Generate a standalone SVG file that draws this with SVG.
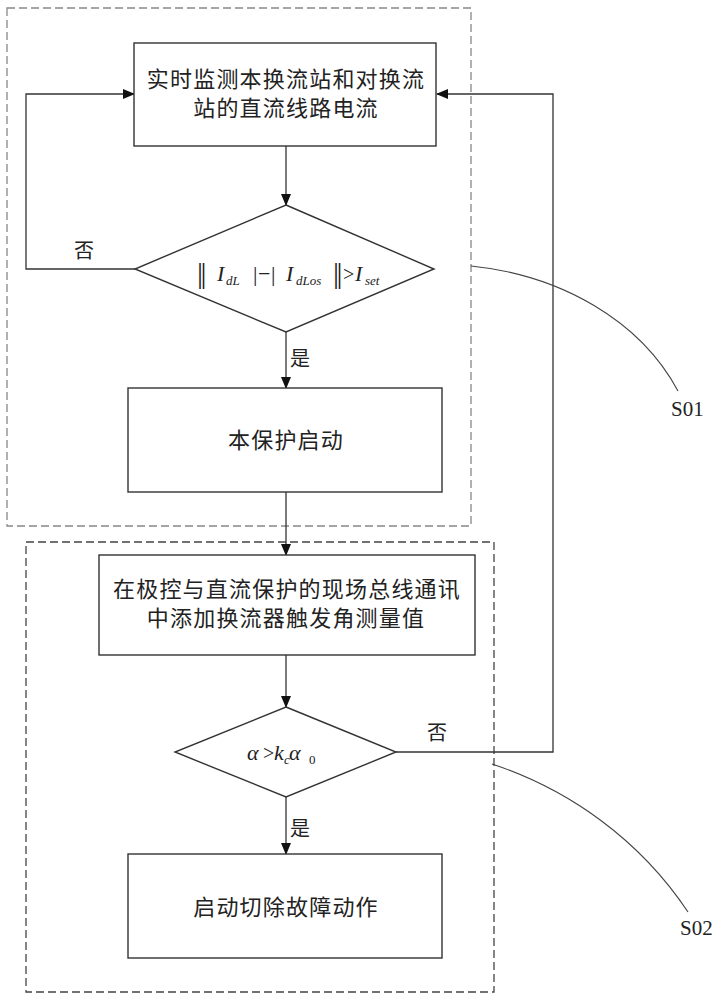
<svg xmlns="http://www.w3.org/2000/svg" width="726" height="1000" viewBox="0 0 726 1000">
<style>
.box{fill:#fff;stroke:#333;stroke-width:1.4}
.dash1{fill:none;stroke:#888;stroke-width:1.3;stroke-dasharray:8 4}
.dash2{fill:none;stroke:#444;stroke-width:1.3;stroke-dasharray:8 4}
.line{fill:none;stroke:#333;stroke-width:1.3}
.lead{fill:none;stroke:#444;stroke-width:1.1}
.cn{font-family:"Noto Sans CJK SC","Noto Sans CJK JP",sans-serif;font-size:22px;letter-spacing:1.2px;fill:#222;text-anchor:middle}
.lbl{font-family:"Noto Sans CJK SC",sans-serif;font-size:20px;fill:#222;text-anchor:middle}
.m{font-family:"Liberation Serif","DejaVu Serif",serif;fill:#222}
.it{font-style:italic}
.bar{font-size:30px;letter-spacing:-2.5px}
.s{font-family:"Liberation Serif",serif;font-size:21px;fill:#222}
</style>
<defs>
<marker id="arr" markerWidth="12" markerHeight="10" refX="11" refY="5" orient="auto" markerUnits="userSpaceOnUse">
<path d="M0,0 L12,5 L0,10 Z" fill="#111"/>
</marker>
</defs>

<g id="region-S01"><rect class="dash1" x="7" y="8" width="464" height="518"/></g>
<g id="region-S02"><rect class="dash2" x="26" y="542" width="468" height="450"/></g>

<g id="connectors">
<line class="line" x1="286" y1="146" x2="286" y2="205" marker-end="url(#arr)"/>
<polyline class="line" points="135,269 26,269 26,94 134,94" marker-end="url(#arr)"/>
<line class="line" x1="286" y1="332" x2="286" y2="388" marker-end="url(#arr)"/>
<line class="line" x1="286" y1="492" x2="286" y2="555" marker-end="url(#arr)"/>
<line class="line" x1="286" y1="655" x2="286" y2="707" marker-end="url(#arr)"/>
<polyline class="line" points="396,752 553,752 553,94 437,94" marker-end="url(#arr)"/>
<line class="line" x1="286" y1="797" x2="286" y2="854" marker-end="url(#arr)"/>
<text class="lbl" x="84" y="258">否</text>
<text class="lbl" x="300" y="366">是</text>
<text class="lbl" x="437" y="740">否</text>
<text class="lbl" x="300" y="836">是</text>
<path class="lead" d="M471,266 C560,275 640,320 678,391"/>
<path class="lead" d="M492,764 C570,790 640,840 688,912"/>
<text class="s" x="671" y="416">S01</text>
<text class="s" x="680" y="935">S02</text>
</g>

<g id="node-monitor">
<rect class="box" x="134" y="43" width="302" height="103"/>
<text class="cn" x="286" y="87">实时监测本换流站和对换流</text>
<text class="cn" x="286" y="116">站的直流线路电流</text>
</g>

<g id="node-cond1">
<polygon class="box" points="286,205 434,269 286,332 135,269"/>
<text class="m" y="281" font-size="22">
<tspan x="197" y="283" class="bar">||</tspan>
<tspan x="217" y="281" class="it">I</tspan>
<tspan x="226" y="285" class="it" font-size="13">dL</tspan>
<tspan x="253" y="281">|</tspan>
<tspan x="258">−</tspan>
<tspan x="271">|</tspan>
<tspan x="286" class="it">I</tspan>
<tspan x="296" y="285" class="it" font-size="13">dLos</tspan>
<tspan x="333" y="283" class="bar">||</tspan>
<tspan x="343" y="281" font-size="20">&gt;</tspan>
<tspan x="355" class="it">I</tspan>
<tspan x="365" y="285" class="it" font-size="13">set</tspan>
</text>
</g>

<g id="node-start">
<rect class="box" x="128" y="388" width="314" height="104"/>
<text class="cn" x="286" y="448">本保护启动</text>
</g>

<g id="node-bus">
<rect class="box" x="99" y="555" width="376" height="100"/>
<text class="cn" x="287" y="597">在极控与直流保护的现场总线通讯</text>
<text class="cn" x="286" y="626">中添加换流器触发角测量值</text>
</g>

<g id="node-cond2">
<polygon class="box" points="286,707 396,752 286,797 175,752"/>
<text class="m" y="760" font-size="22">
<tspan x="247" class="it">α</tspan>
<tspan x="263" font-size="20">&gt;</tspan>
<tspan x="274" class="it">k</tspan>
<tspan x="284" y="764" class="it" font-size="13">c</tspan>
<tspan x="289" y="760" class="it">α</tspan>
<tspan x="309" y="764" font-size="13">0</tspan>
</text>
</g>

<g id="node-trip">
<rect class="box" x="128" y="854" width="314" height="104"/>
<text class="cn" x="286" y="915">启动切除故障动作</text>
</g>
</svg>
